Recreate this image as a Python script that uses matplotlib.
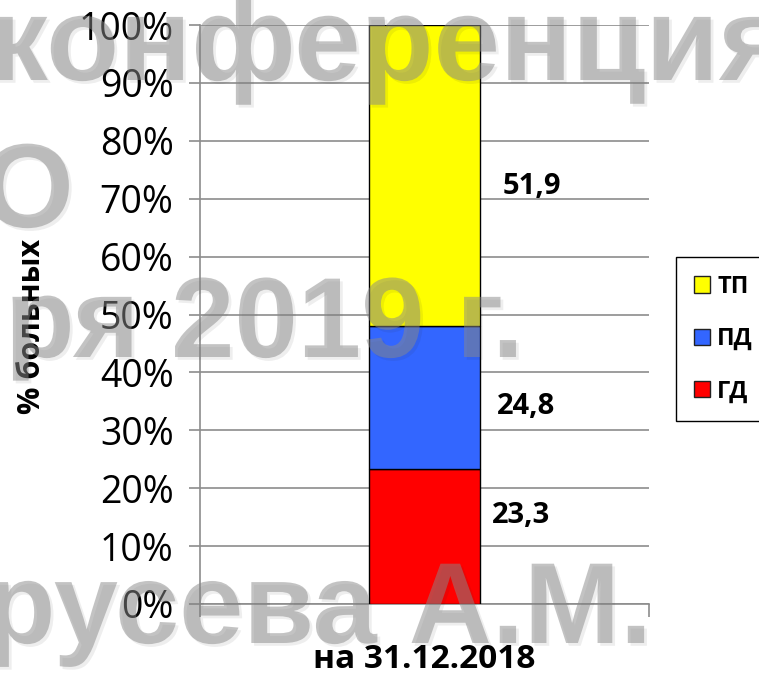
import matplotlib.pyplot as plt
import matplotlib.patheffects as pe
from matplotlib.patches import Patch

# данные
categories = ['на 31.12.2018']
series = ['ГД', 'ПД', 'ТП']
values = [23.3, 24.8, 51.9]
colors = ['#ff0000', '#3366ff', '#ffff00']
labels = ['23,3', '24,8', '51,9']
label_dy = [3.6, -1.6, -2.0]
label_x = [0.215, 0.227, 0.24]
yticks = list(range(0, 101, 10))

plt.rcParams['font.family'] = ['Open Sans', 'DejaVu Sans']

W, H = 759, 673
fig = plt.figure(figsize=(W / 100, H / 100), dpi=100)
ax = fig.add_axes([200 / W, 69 / H, 449 / W, 579 / H])

bottom = 0
for v, c, lab, dy, lx in zip(values, colors, labels, label_dy, label_x):
    ax.bar(0, v, width=0.245, bottom=bottom, color=c, edgecolor='black', linewidth=1, zorder=3)
    ax.text(lx, bottom + v / 2 + dy, lab, ha='center', va='center',
            fontsize=21, fontweight='bold', zorder=4)
    bottom += v

ax.set_xlim(-0.5, 0.5)
ax.set_ylim(0, 100)
ax.set_yticks(yticks)
ax.set_yticklabels([f'{t}%' for t in yticks], fontsize=27)
ax.yaxis.grid(True, color='#8c8c8c', linewidth=1.2, zorder=0)
ax.tick_params(axis='y', length=8, color='#8c8c8c', width=1.2, pad=11)

ax.set_xticks([0])
ax.set_xticklabels(categories, fontsize=24, fontweight='bold')
ax.tick_params(axis='x', length=0, pad=28)
ax.set_xticks([-0.5, 0.5], minor=True)
ax.tick_params(axis='x', which='minor', length=9, color='#8c8c8c', width=1.2)

for s in ['top', 'right']:
    ax.spines[s].set_visible(False)
for s in ['left', 'bottom']:
    ax.spines[s].set_color('#8c8c8c')
    ax.spines[s].set_linewidth(1.2)

ax.text(-0.374, 0.48, '% больных', transform=ax.transAxes, rotation=90,
        ha='center', va='center', fontsize=22, fontweight='bold')

handles = [Patch(facecolor=c, edgecolor='#222222', label=s)
           for s, c in zip(series[::-1], colors[::-1])]
leg = fig.legend(handles=handles, loc='upper left', bbox_to_anchor=(676 / W, 1 - 257 / H),
                 prop={'weight': 'bold', 'size': 17, 'family': 'Open Sans'},
                 frameon=True, fancybox=False, edgecolor='black', framealpha=1,
                 handlelength=0.7, handleheight=0.7, handletextpad=0.3,
                 labelspacing=1.2, borderpad=0.75, borderaxespad=0)
leg.get_frame().set_linewidth(1)

# водяной знак
wm = dict(color='#898989', alpha=0.5, fontfamily='Liberation Sans', fontweight='bold',
          va='baseline', ha='left', zorder=10,
          path_effects=[pe.SimplePatchShadow(offset=(2, -2), alpha=0.08), pe.Normal()])
fig.text(-12 / W, 1 - 80 / H, 'конференция', fontsize=86, **wm)
fig.text(-19 / W, 1 - 227 / H, 'О', fontsize=86, **wm)
fig.text(5 / W, 1 - 357 / H, 'ря 2019 г.', fontsize=82, **wm)
fig.text(-15 / W, 1 - 643 / H, 'русева А.М.', fontsize=83, **wm)

fig.savefig('out.png', dpi=100)
